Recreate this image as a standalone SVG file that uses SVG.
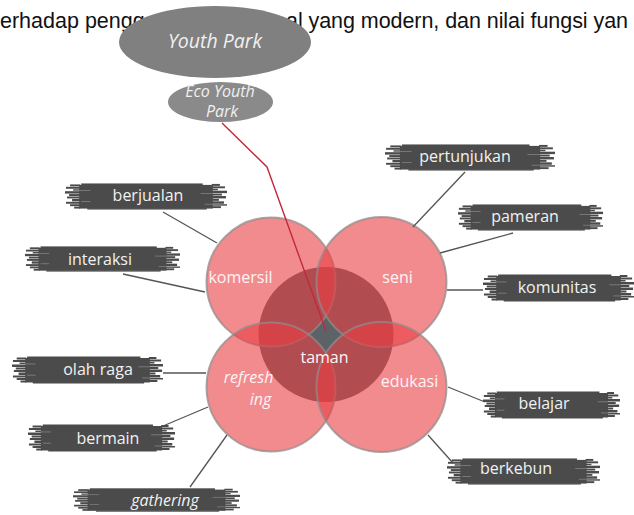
<svg xmlns="http://www.w3.org/2000/svg" width="634" height="515" viewBox="0 0 634 515">
<style>
.para{font-family:"Liberation Sans",Arial,sans-serif;font-size:21.5px;fill:#111}
.lbl{font-family:"Open Sans","DejaVu Sans",sans-serif;font-size:16px;fill:#f2f2f2;text-anchor:middle}
.cl{font-family:"Open Sans","DejaVu Sans",sans-serif;font-size:16px;fill:#fff4f4;text-anchor:middle}
.it{font-style:italic}
.c{fill:#e93e43;fill-opacity:0.6;stroke:#948a8a;stroke-width:2;stroke-opacity:0.75}
.con line{stroke:#555;stroke-width:1.3}
.bs{fill:#4b4b4b}
.hl{fill:#8c8c8c}
</style>
<defs>
<symbol id="brush" viewBox="0 0 160 30" preserveAspectRatio="none">
<g class="bs">
<rect x="14" y="3" width="132" height="24.5"/>
<rect x="16" y="1.5" width="120" height="2"/>
<rect x="22" y="27" width="118" height="1.5"/>
<rect x="5" y="2.5" width="10" height="2"/>
<rect x="1" y="5" width="14" height="2"/>
<rect x="8" y="7.5" width="7" height="1.5"/>
<rect x="0" y="9.5" width="15" height="2.5"/>
<rect x="4" y="12.5" width="11" height="2"/>
<rect x="2" y="15" width="13" height="2"/>
<rect x="7" y="17.5" width="8" height="2.5"/>
<rect x="1" y="20.5" width="14" height="2"/>
<rect x="5" y="23" width="10" height="2"/>
<rect x="9" y="25.5" width="6" height="2"/>
<rect x="145" y="2" width="8" height="2"/>
<rect x="145" y="4.5" width="13" height="2"/>
<rect x="145" y="7" width="6" height="1.5"/>
<rect x="145" y="9" width="15" height="2.5"/>
<rect x="145" y="12" width="10" height="2"/>
<rect x="145" y="14.5" width="14" height="2.5"/>
<rect x="145" y="17.5" width="7" height="2"/>
<rect x="145" y="20" width="12" height="2.5"/>
<rect x="145" y="23" width="15" height="1.5"/>
<rect x="145" y="25" width="9" height="2"/>
</g>
<g class="hl">
<rect x="13" y="8.6" width="12" height="0.7"/>
<rect x="16" y="19.8" width="9" height="0.7"/>
<rect x="134" y="11.5" width="12" height="0.7"/>
<rect x="138" y="22.6" width="9" height="0.7"/>
</g>
</symbol>
</defs>

<rect width="634" height="515" fill="#fff"/>

<g id="paragraph">
<text class="para" x="0" y="27.5">erhadap pengg</text>
<text class="para" x="286" y="27.5" textLength="342" lengthAdjust="spacing">al yang modern, dan nilai fungsi yan</text>
</g>

<g id="youth-park">
<ellipse cx="215" cy="42" rx="96" ry="36" fill="#808080"/>
<text class="cl it" x="215" y="48" style="font-size:19.5px;fill:#f0f0f0">Youth Park</text>
</g>

<g id="eco-youth-park">
<ellipse cx="220.5" cy="102" rx="52.5" ry="20" fill="#8a8a8a"/>
<text class="cl it" x="220" y="97" style="fill:#f0f0f0">Eco Youth</text>
<text class="cl it" x="222" y="117" style="fill:#f0f0f0">Park</text>
</g>

<g id="taman">
<circle cx="326" cy="334.5" r="67.5" fill="#5c6266"/>
</g>
<g id="komersil">
<circle class="c" cx="271" cy="282" r="64.5"/>
<text class="cl" x="240.5" y="283">komersil</text>
</g>
<g id="seni">
<circle class="c" cx="381.5" cy="282" r="65"/>
<text class="cl" x="397.5" y="283">seni</text>
</g>
<g id="refreshing">
<circle class="c" cx="271" cy="387" r="64.5"/>
<text class="cl it" x="248.5" y="383">refresh</text>
<text class="cl it" x="260.5" y="405">ing</text>
</g>
<g id="edukasi">
<circle class="c" cx="381.5" cy="387" r="65"/>
<text class="cl" x="409.5" y="387">edukasi</text>
</g>

<g id="connectors" class="con">
<polyline points="222,123 267,167 326,331" fill="none" stroke="#c4283c" stroke-width="1.4"/>
<line x1="163" y1="212" x2="217" y2="243"/>
<line x1="123" y1="274" x2="205" y2="292"/>
<line x1="163" y1="373" x2="206" y2="373"/>
<line x1="163" y1="426" x2="208" y2="407"/>
<line x1="190" y1="487" x2="227" y2="435"/>
<line x1="465" y1="172" x2="413" y2="227"/>
<line x1="513" y1="233" x2="440" y2="253"/>
<line x1="447" y1="290" x2="483" y2="290"/>
<line x1="448" y1="387" x2="485" y2="402"/>
<line x1="428" y1="435" x2="453" y2="463"/>
</g>

<g id="taman-label">
<text class="cl" x="324.5" y="363">taman</text>
</g>

<g id="berjualan"><use href="#brush" x="65" y="182" width="162" height="29"/><text class="lbl" x="148" y="201">berjualan</text></g>
<g id="interaksi"><use href="#brush" x="25" y="245" width="155" height="28"/><text class="lbl" x="100" y="265">interaksi</text></g>
<g id="pertunjukan"><use href="#brush" x="385" y="143" width="170" height="29"/><text class="lbl" x="465" y="162">pertunjukan</text></g>
<g id="pameran"><use href="#brush" x="458" y="203" width="145" height="29"/><text class="lbl" x="525" y="222">pameran</text></g>
<g id="komunitas"><use href="#brush" x="483" y="273" width="151" height="30"/><text class="lbl" x="557" y="293">komunitas</text></g>
<g id="belajar"><use href="#brush" x="483" y="390" width="137" height="30"/><text class="lbl" x="544" y="409">belajar</text></g>
<g id="berkebun"><use href="#brush" x="447" y="457" width="153" height="29"/><text class="lbl" x="516" y="474">berkebun</text></g>
<g id="olah-raga"><use href="#brush" x="12" y="355" width="151" height="30"/><text class="lbl" x="98" y="375">olah raga</text></g>
<g id="bermain"><use href="#brush" x="28" y="423" width="147" height="30"/><text class="lbl" x="108" y="444">bermain</text></g>
<g id="gathering"><use href="#brush" x="73" y="487" width="167" height="26"/><text class="lbl it" x="165" y="506">gathering</text></g>
</svg>
